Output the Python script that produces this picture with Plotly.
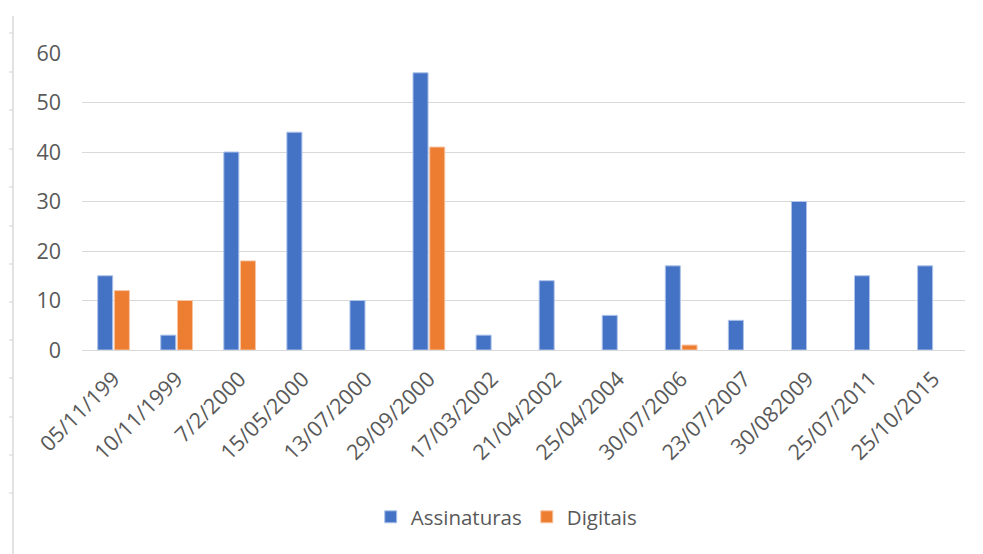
import plotly.graph_objects as go

categories = ["05/11/199", "10/11/1999", "7/2/2000", "15/05/2000", "13/07/2000",
              "29/09/2000", "17/03/2002", "21/04/2002", "25/04/2004", "30/07/2006",
              "23/07/2007", "30/082009", "25/07/2011", "25/10/2015"]
assinaturas = [15, 3, 40, 44, 10, 56, 3, 14, 7, 17, 6, 30, 15, 17]
digitais = [12, 10, 18, None, None, 41, None, None, None, 1, None, None, None, None]
y_ticks = [0, 10, 20, 30, 40, 50, 60]

W, H = 983, 554
ML, MR, MT, MB = 82, 18, 53, 204

fig = go.Figure()
fig.add_trace(go.Bar(name="Assinaturas", x=categories, y=assinaturas,
                     marker=dict(color="#4472C4", line=dict(color="#aec3ea", width=1))))
fig.add_trace(go.Bar(name="Digitais", x=categories, y=digitais,
                     marker=dict(color="#ED7D31", line=dict(color="#f7c4a2", width=1))))

def px_x(p):
    return (p - ML) / (W - ML - MR)

def px_y(p):
    return (H - MB - p) / (H - MT - MB)

shapes = [dict(type="line", xref="paper", yref="paper", x0=px_x(13), x1=px_x(13),
               y0=px_y(16), y1=px_y(554), line=dict(color="#d9d9d9", width=1.5))]
for t in [33, 72, 110, 149, 187, 226, 264, 302, 340, 378, 417, 455, 493]:
    shapes.append(dict(type="line", xref="paper", yref="paper", x0=px_x(9), x1=px_x(13),
                       y0=px_y(t), y1=px_y(t), line=dict(color="#d9d9d9", width=1.2)))

font_family = "Open Sans, Noto Sans, sans-serif"
fig.update_layout(
    width=W, height=H,
    margin=dict(l=ML, r=MR, t=MT, b=MB),
    paper_bgcolor="white", plot_bgcolor="white",
    barmode="group", bargap=0.47, bargroupgap=0.1,
    font=dict(family=font_family, color="#595959", size=21.5),
    showlegend=True,
    legend=dict(orientation="h", x=0.481, xanchor="center", y=px_y(517), yanchor="middle",
                font=dict(size=20.5, color="#595959"), itemwidth=30, traceorder="normal"),
    shapes=shapes,
    xaxis=dict(tickangle=-45, tickfont=dict(size=21.5, color="#595959"), showgrid=False,
               showline=True, linecolor="#d9d9d9", linewidth=1, ticks="",
               ticklabelstandoff=7, automargin=False),
    yaxis=dict(range=[0, 60], tickvals=y_ticks, showgrid=True, gridcolor="#d9d9d9",
               gridwidth=1, zeroline=False, showline=False, ticks="",
               tickfont=dict(size=21.5, color="#595959"), ticklabelstandoff=20,
               automargin=False),
)

fig.write_html("out.html")
